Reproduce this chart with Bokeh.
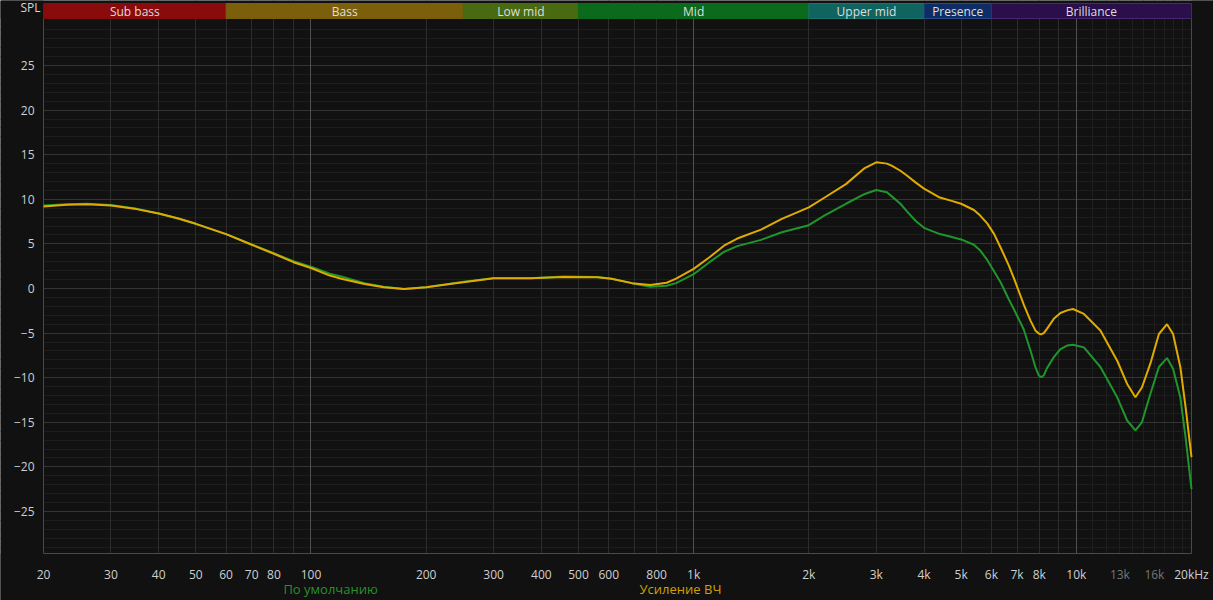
from bokeh.plotting import figure
from bokeh.models import Range1d, FixedTicker, Grid, Label, ColumnDataSource, LogAxis
from bokeh.core.properties import value
from bokeh.embed import file_html
from bokeh.resources import INLINE
import numpy as np

# ---------------- data ----------------
freq = [20, 23, 26, 30, 35, 40, 45, 50, 60, 70, 80, 90, 100, 112, 120, 138, 155, 175,
        200, 225, 250, 300, 375, 457, 560, 610, 690, 770, 850, 900, 1000, 1100, 1200,
        1300, 1500, 1700, 2000, 2200, 2500, 2800, 3000, 3200, 3300, 3470, 3600, 3800,
        4000, 4400, 4700, 5000, 5400, 5600, 5850, 6100, 6340, 6660, 6864, 7290, 7590,
        7818, 7976, 8093, 8222, 8390, 8733, 9090, 9460, 9800, 10470, 11560, 12790,
        13580, 14270, 14840, 15620, 16440, 17260, 17900, 18700, 19300, 20000]

default_db = [9.3, 9.45, 9.5, 9.35, 8.95, 8.4, 7.85, 7.25, 6.1, 4.95, 3.95, 3.05, 2.45,
              1.65, 1.35, 0.6, 0.2, -0.05, 0.15, 0.45, 0.75, 1.15, 1.15, 1.35, 1.3, 1.1,
              0.6, 0.2, 0.3, 0.6, 1.6, 2.95, 4.1, 4.75, 5.45, 6.3, 7.1, 8.2, 9.5, 10.6,
              11.05, 10.8, 10.3, 9.5, 8.7, 7.6, 6.8, 6.1, 5.8, 5.5, 4.9, 4.3, 3.2, 1.9,
              0.7, -1.2, -2.3, -4.6, -6.95, -8.8, -9.75, -9.94, -9.75, -8.9, -7.7, -6.8,
              -6.4, -6.3, -6.6, -8.8, -12.2, -14.8, -15.9, -15.0, -11.8, -8.8, -7.8,
              -9.0, -12.2, -16.7, -22.5]

treble_db = [9.2, 9.4, 9.45, 9.3, 8.9, 8.4, 7.85, 7.25, 6.1, 4.9, 3.9, 2.95, 2.3,
             1.45, 1.1, 0.5, 0.15, -0.05, 0.15, 0.45, 0.7, 1.15, 1.15, 1.3, 1.27, 1.1,
             0.6, 0.4, 0.64, 1.1, 2.2, 3.5, 4.8, 5.6, 6.6, 7.8, 9.1, 10.2, 11.7, 13.5,
             14.15, 14.0, 13.75, 13.2, 12.7, 11.9, 11.2, 10.2, 9.85, 9.5, 8.8, 8.2, 7.3,
             6.1, 4.6, 2.6, 1.2, -1.8, -3.6, -4.7, -5.05, -5.15, -5.0, -4.5, -3.4, -2.75,
             -2.45, -2.3, -2.85, -4.7, -8.1, -10.7, -12.2, -11.1, -8.4, -5.1, -4.0, -5.1,
             -8.8, -13.3, -18.9]

series_names = ["По умолчанию", "Усиление ВЧ"]
series_colors = ["#1f962b", "#e0ab00"]
legend_text_colors = ["#2b8f2b", "#d2a000"]
legend_x = [112.5, 924]

band_names = ["Sub bass", "Bass", "Low mid", "Mid", "Upper mid", "Presence", "Brilliance"]
band_lo = [20, 60, 250, 500, 2000, 4000, 6000]
band_hi = [60, 250, 500, 2000, 4000, 6000, 20000]
band_fill = ["#8a0b0b", "#7c5f0a", "#4a6a12", "#0b6a1b", "#0f6460", "#0e2d66", "#2b0e4c"]
band_edge = ["#8a0b0b", "#7c5f0a", "#4a6a12", "#0b6a1b", "#1a7470", "#2a4a88", "#45286e"]

x_tick_vals = [20, 30, 40, 50, 60, 70, 80, 100, 200, 300, 400, 500, 600, 800, 1000,
               2000, 3000, 4000, 5000, 6000, 7000, 8000, 10000, 20000]
x_tick_text = ["20", "30", "40", "50", "60", "70", "80", "100", "200", "300", "400",
               "500", "600", "800", "1k", "2k", "3k", "4k", "5k", "6k", "7k", "8k",
               "10k", "20kHz"]
x_dim_tick_vals = [13000, 16000]
x_dim_tick_text = ["13k", "16k"]
y_tick_vals = [-25, -20, -15, -10, -5, 0, 5, 10, 15, 20, 25]

# ---------------- layout constants ----------------
F_MIN, F_MAX = 20, 20000                 # plot area in x
X_START, X_END = 15.438, 22832           # whole canvas in x (log)
Y_START, Y_END = -34.978, 32.287         # whole canvas in y
Y_PLOT_BOT, Y_PLOT_TOP = -29.71, 30.27   # plot area in y
Y_BAND_TOP = 31.95
FONT = "Open Sans"
BG = "#111111"

p = figure(width=1213, height=600, x_axis_type="log",
           x_range=Range1d(X_START, X_END), y_range=Range1d(Y_START, Y_END),
           output_backend="svg", toolbar_location=None,
           min_border_left=0, min_border_right=0, min_border_top=0, min_border_bottom=0,
           background_fill_color=BG, border_fill_color=BG)
p.outline_line_color = None
p.grid.visible = False

# grids
def add_grid(dim, ticks, color):
    g = Grid(dimension=dim, ticker=FixedTicker(ticks=ticks), grid_line_color=color,
             grid_line_width=1)
    p.add_layout(g)

regular_v = [m * d for d in (10, 100, 1000) for m in range(2, 10) if m * d > 20]
decade_v = [100, 1000, 10000]
fine_v = [k * 1000 for k in range(11, 20)]
major_h = list(range(-25, 30, 5))
minor_h = [v for v in range(-29, 31) if v % 5 != 0]
add_grid(1, minor_h, "#1d1d1d")
add_grid(0, fine_v, "#1f1f1f")
add_grid(0, regular_v, "#2c2c2c")
add_grid(1, major_h, "#343434")
add_grid(0, decade_v, "#505050")

# background strips outside the plot area (hide grid lines there)
p.quad(left=[X_START, F_MAX, X_START, X_START], right=[F_MIN, X_END, X_END, X_END],
       bottom=[Y_START, Y_START, Y_START, Y_PLOT_TOP],
       top=[Y_END, Y_END, Y_PLOT_BOT, Y_END], fill_color=BG, line_color=None)

# plot frame border
p.quad(left=[F_MIN], right=[F_MAX], bottom=[Y_PLOT_BOT], top=[Y_PLOT_TOP],
       fill_color=None, line_color="#4a4a4a", line_width=1)

# axes (fixed at the plot-area edges)
xa = p.xaxis[0]
xa.fixed_location = Y_PLOT_BOT
xa.ticker = FixedTicker(ticks=x_tick_vals)
xa.major_label_overrides = {v: t for v, t in zip(x_tick_vals, x_tick_text)}
xa.axis_line_color = None
xa.major_tick_line_color = None
xa.minor_tick_line_color = None
xa.major_label_text_color = "#cfcfcf"
xa.major_label_text_font = FONT
xa.major_label_text_font_size = "12px"
xa.major_label_standoff = 6

xa2 = LogAxis(fixed_location=Y_PLOT_BOT, ticker=FixedTicker(ticks=x_dim_tick_vals),
              major_label_overrides={v: t for v, t in zip(x_dim_tick_vals, x_dim_tick_text)},
              axis_line_color=None, major_tick_line_color=None, minor_tick_line_color=None,
              major_label_text_color="#767676", major_label_text_font=FONT,
              major_label_text_font_size="12px", major_label_standoff=6)
p.add_layout(xa2, "below")

ya = p.yaxis[0]
ya.fixed_location = F_MIN
ya.ticker = FixedTicker(ticks=y_tick_vals)
ya.axis_line_color = None
ya.major_tick_line_color = None
ya.minor_tick_line_color = None
ya.major_label_text_color = "#cfcfcf"
ya.major_label_text_font = FONT
ya.major_label_text_font_size = "12px"
ya.major_label_standoff = 3

# curves
src = ColumnDataSource(dict(f=freq, g=default_db, y=treble_db))
p.line("f", "g", source=src, line_color=series_colors[0], line_width=2)
p.line("f", "y", source=src, line_color=series_colors[1], line_width=2)

# band
bsrc = ColumnDataSource(dict(lo=band_lo, hi=band_hi, fill=band_fill, edge=band_edge,
                             name=band_names,
                             mid=list(np.sqrt(np.array(band_lo) * np.array(band_hi)))))
p.quad(left="lo", right="hi", bottom=Y_PLOT_TOP, top=Y_BAND_TOP, fill_color="fill",
       line_color="edge", line_width=1, source=bsrc)
p.text(x="mid", y=31.0, text="name", source=bsrc,
       text_align="center", text_baseline="middle", text_color="#dedede",
       text_font=value(FONT), text_font_size="12px")

# SPL label
p.add_layout(Label(x=19.64, y=31.45, text="SPL", text_align="right", text_baseline="middle",
                   text_color="#d6d6d6", text_font=FONT, text_font_size="12px"))

# legend texts
for name, col, fx in zip(series_names, legend_text_colors, legend_x):
    p.add_layout(Label(x=fx, y=-33.7, text=name, text_align="center",
                       text_baseline="middle", text_color=col,
                       text_font=FONT, text_font_size="13px"))

open("out.html", "w").write(file_html(p, INLINE))
